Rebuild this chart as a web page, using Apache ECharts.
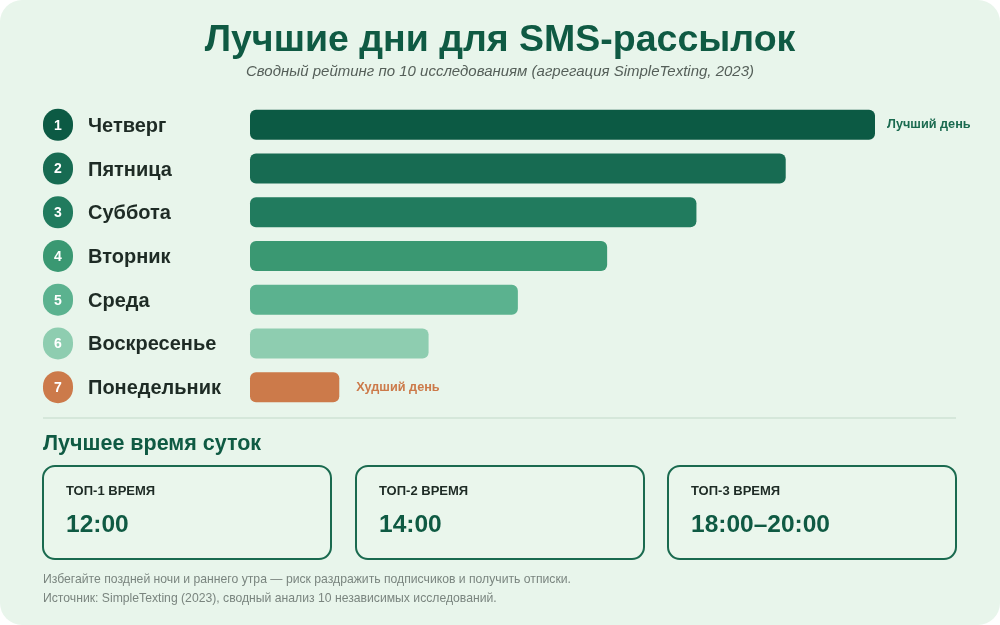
<!DOCTYPE html>
<html>
<head>
<meta charset="utf-8">
<script src="https://cdn.jsdelivr.net/npm/echarts@6/dist/echarts.min.js"></script>
<style>
	html, body { margin: 0; padding: 0; background: #ffffff; }
	#chart { width: 1000px; height: 625px; }
</style>
</head>
<body>
<div id="chart"></div>
<script>
// данные
let days = ["Четверг", "Пятница", "Суббота", "Вторник", "Среда", "Воскресенье", "Понедельник"];
let scores = [7, 6, 5, 4, 3, 2, 1];
let dayColors = ["#0c5a44", "#176b52", "#217b5e", "#3a9872", "#5bb28f", "#8ecdb0", "#cc7a4a"];
let timeLabels = ["ТОП-1 ВРЕМЯ", "ТОП-2 ВРЕМЯ", "ТОП-3 ВРЕМЯ"];
let timeValues = ["12:00", "14:00", "18:00–20:00"];
let notes = [
	"Избегайте поздней ночи и раннего утра — риск раздражить подписчиков и получить отписки.",
	"Источник: SimpleTexting (2023), сводный анализ 10 независимых исследований.",
];

let font = "Liberation Sans, Arial, sans-serif";
let echarts = window.echarts;
let myChart = echarts.init(document.getElementById("chart"));

let rich = {
	n: {
		fontSize: 20,
		fontWeight: "bold",
		color: "#1e2b25",
		fontFamily: font,
		padding: [3, 0, 0, 15],
	},
};
dayColors.forEach((c, i) => {
	rich["b" + i] = {
		width: 30,
		height: 30,
		lineHeight: 30,
		borderRadius: 15,
		backgroundColor: c,
		color: "#fff",
		align: "center",
		fontSize: 14,
		fontWeight: "bold",
		fontFamily: font,
		padding: [2, 0, 0, 0],
	};
});

let barData = scores.map((v, i) => {
	let item = { value: v, itemStyle: { color: dayColors[i] } };
	if (i === 0) {
		item.label = {
			show: true,
			position: "right",
			distance: 12,
			formatter: "Лучший день",
			color: "#1a6a4f",
		};
	}
	if (i === scores.length - 1) {
		item.label = {
			show: true,
			position: "right",
			distance: 17,
			formatter: "Худший день",
			color: "#cc7a4a",
		};
	}
	return item;
});

// нижний блок: карточки с лучшим временем
let graphics = [
	{
		type: "rect",
		z: -10,
		shape: { x: 0, y: 0, width: 1000, height: 625, r: 22 },
		style: { fill: "#e8f5eb" },
	},
	{
		type: "line",
		shape: { x1: 43, y1: 418, x2: 956, y2: 418 },
		style: { stroke: "#cfe2d5", lineWidth: 1.5 },
	},
	{
		type: "text",
		left: 43,
		top: 433,
		style: {
			text: "Лучшее время суток",
			fill: "#0f5a43",
			font: "bold 21.5px " + font,
		},
	},
];
let cardX = [43, 356, 668];
timeValues.forEach((t, i) => {
	graphics.push({
		type: "rect",
		shape: { x: cardX[i], y: 466, width: 288, height: 93, r: 12 },
		style: { fill: "#eaf6ec", stroke: "#1a6a4f", lineWidth: 2 },
	});
	graphics.push({
		type: "text",
		left: cardX[i] + 23,
		top: 485,
		style: { text: timeLabels[i], fill: "#1e2b25", font: "bold 13px " + font },
	});
	graphics.push({
		type: "text",
		left: cardX[i] + 23,
		top: 513,
		style: { text: t, fill: "#0f5a43", font: "bold 24.5px " + font },
	});
});
notes.forEach((s, i) => {
	graphics.push({
		type: "text",
		left: 43,
		top: 574 + i * 19,
		style: { text: s, fill: "#7a857f", font: "12.2px " + font },
	});
});

let option = {
	backgroundColor: "transparent",
	title: {
		text: "Лучшие дни для SMS-рассылок",
		subtext: "Сводный рейтинг по 10 исследованиям (агрегация SimpleTexting, 2023)",
		left: "center",
		top: 17,
		itemGap: 4,
		textStyle: {
			fontSize: 37.5,
			fontWeight: "bold",
			color: "#0f5a43",
			fontFamily: font,
		},
		subtextStyle: {
			fontSize: 15,
			fontStyle: "italic",
			color: "#555f59",
			fontFamily: font,
		},
	},
	grid: {
		left: 250,
		right: 125,
		top: 103,
		height: 306,
	},
	xAxis: {
		type: "value",
		min: 0,
		max: 7,
		show: false,
	},
	yAxis: {
		type: "category",
		inverse: true,
		data: days,
		axisLine: { show: false },
		axisTick: { show: false },
		axisLabel: {
			align: "left",
			margin: 207,
			formatter: function (v, i) {
				return "{b" + i + "|" + (i + 1) + "}{n|" + v + "}";
			},
			rich: rich,
		},
	},
	series: [
		{
			type: "bar",
			barWidth: 30,
			itemStyle: { borderRadius: 6 },
			label: {
				fontSize: 12.7,
				fontWeight: "bold",
				fontFamily: font,
				padding: [3, 0, 0, 0],
			},
			data: barData,
		},
	],
	graphic: graphics,
};

myChart.setOption(option);
</script>
</body>
</html>
